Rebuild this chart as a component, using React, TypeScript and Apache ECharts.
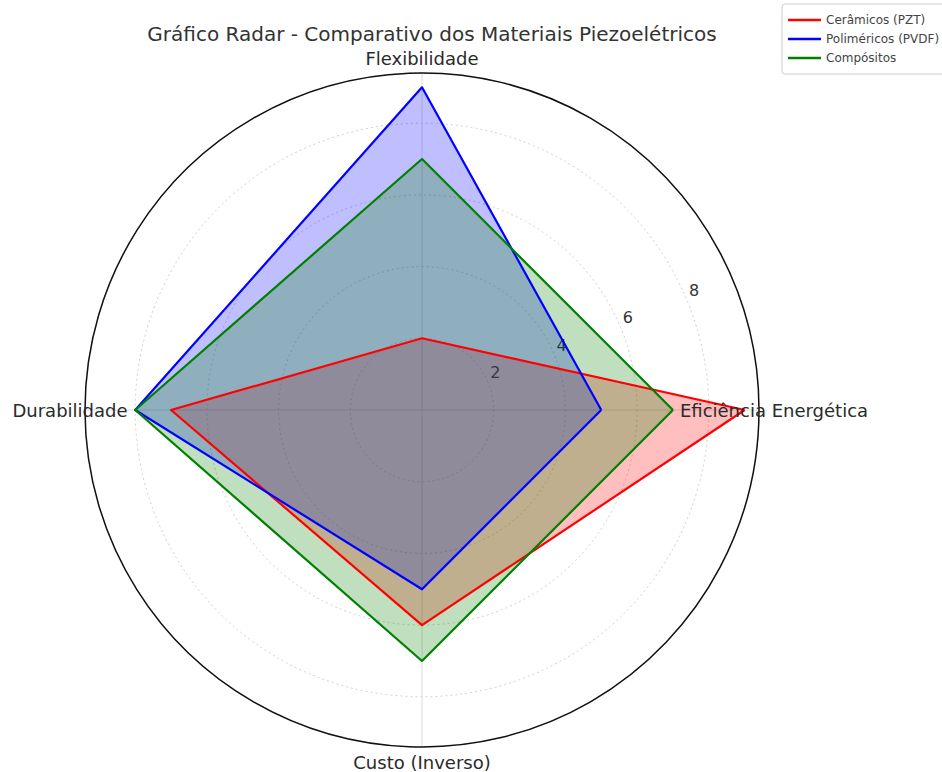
import React, { useEffect, useRef } from "react";
import * as echarts from "echarts";

const TITLE = "Gráfico Radar - Comparativo dos Materiais Piezoelétricos";
const INDICATORS = ["Eficiência Energética", "Flexibilidade", "Durabilidade", "Custo (Inverso)"];
const SERIES_NAMES = ["Cerâmicos (PZT)", "Poliméricos (PVDF)", "Compósitos"];
const CERAMICOS = [9, 2, 7, 6];
const POLIMERICOS = [5, 9, 8, 5];
const COMPOSITOS = [7, 7, 8, 7];
const R_TICKS = [2, 4, 6, 8];
const R_MAX = 9.4;
const COLORS = ["#ff0000", "#0000ff", "#008000"];
const FILLS = ["rgba(255,0,0,0.25)", "rgba(0,0,255,0.25)", "rgba(0,128,0,0.25)"];

const CX = 422;
const CY = 410;
const R = 337;
const NAME_R = 352;
const LABEL_DY = 10;
const FONT = "DejaVu Sans";

export default function App() {
  const ref = useRef<HTMLDivElement>(null);
  useEffect(() => {
    if (!ref.current) return;
    const chart = echarts.init(ref.current, null, { renderer: "svg" });
    const values = [CERAMICOS, POLIMERICOS, COMPOSITOS];
    const nameGraphics = INDICATORS.map((name, i) => {
      const a = (i * 2 * Math.PI) / INDICATORS.length;
      return {
        type: "text",
        x: CX + NAME_R * Math.cos(a),
        y: CY - NAME_R * Math.sin(a),
        z: 100,
        style: {
          text: name,
          fontFamily: FONT,
          fontSize: 18,
          fill: "#2a2a2a",
          textAlign: "center",
          textVerticalAlign: "middle",
        },
      };
    });
    chart.setOption({
      animation: false,
      backgroundColor: "#ffffff",
      textStyle: { fontFamily: FONT },
      title: {
        text: TITLE,
        left: 427,
        textAlign: "center",
        top: 19,
        textStyle: { fontFamily: FONT, fontSize: 20, fontWeight: "normal", color: "#333" },
      },
      legend: {
        orient: "vertical",
        left: 782,
        top: 4,
        data: SERIES_NAMES,
        icon: "rect",
        itemWidth: 33,
        itemHeight: 2.5,
        itemGap: 5,
        padding: [9, 8, 9, 6],
        borderColor: "#cccccc",
        borderWidth: 1,
        borderRadius: 3,
        backgroundColor: "#ffffff",
        textStyle: { fontFamily: FONT, fontSize: 12, color: "#444", lineHeight: 14 },
      },
      polar: [
        { center: [CX, CY], radius: R },
        { center: [CX, CY - LABEL_DY], radius: R },
      ],
      angleAxis: [
        {
          polarIndex: 0,
          type: "value",
          min: 0,
          max: 360,
          interval: 90,
          startAngle: 0,
          axisLine: { show: true, lineStyle: { color: "#111", width: 1.5 } },
          axisTick: { show: false },
          axisLabel: { show: false },
          splitLine: { show: true, lineStyle: { color: "#dcdcdc", width: 1 } },
        },
        {
          polarIndex: 1,
          type: "value",
          min: 0,
          max: 360,
          startAngle: 22.5,
          axisLine: { show: false },
          axisTick: { show: false },
          axisLabel: { show: false },
          splitLine: { show: false },
        },
      ],
      radiusAxis: [
        {
          polarIndex: 0,
          min: 0,
          max: R_MAX,
          interval: 2,
          axisLine: { show: false },
          axisTick: { show: false },
          axisLabel: { show: false },
          splitLine: {
            show: true,
            lineStyle: { color: "#cfcfcf", width: 1, type: [2, 3] },
          },
        },
        {
          polarIndex: 1,
          min: 0,
          max: R_MAX,
          interval: 2,
          axisLine: { show: false },
          axisTick: { show: false },
          splitLine: { show: false },
          axisLabel: {
            show: true,
            margin: 0,
            align: "center",
            verticalAlign: "middle",
            padding: [0, 0, 0, 14],
            fontFamily: FONT,
            fontSize: 16,
            color: "#333",
            showMaxLabel: false,
            formatter: (v: number) => (R_TICKS.indexOf(v) >= 0 ? String(v) : ""),
          },
        },
      ],
      radar: {
        center: [CX, CY],
        radius: R,
        startAngle: 0,
        shape: "circle",
        indicator: INDICATORS.map((name) => ({ name, min: 0, max: R_MAX })),
        axisName: { show: false },
        axisLine: { show: false },
        splitLine: { show: false },
        splitArea: { show: false },
        axisTick: { show: false },
        axisLabel: { show: false },
      },
      series: [
        {
          type: "radar",
          symbol: "none",
          z: 4,
          data: SERIES_NAMES.map((name, i) => ({
            name,
            value: values[i],
            itemStyle: { color: COLORS[i] },
            lineStyle: { width: 0, opacity: 0 },
            areaStyle: { color: FILLS[i], opacity: 1 },
          })),
        },
        {
          type: "radar",
          symbol: "none",
          z: 6,
          data: SERIES_NAMES.map((name, i) => ({
            name,
            value: values[i],
            itemStyle: { color: COLORS[i] },
            lineStyle: { color: COLORS[i], width: 2.2 },
          })),
        },
      ],
      graphic: nameGraphics,
    });
    return () => chart.dispose();
  }, []);
  return (
    <div
      ref={ref}
      style={{ position: "fixed", left: 0, top: 0, width: 942, height: 772, background: "#fff" }}
    />
  );
}
